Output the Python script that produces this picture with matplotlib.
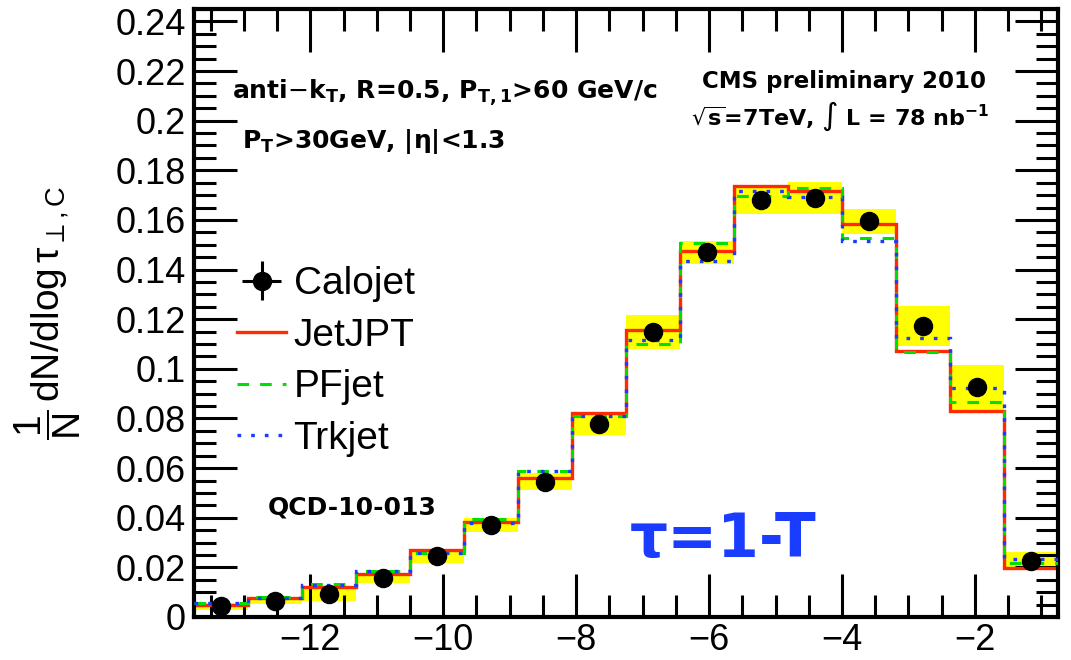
import matplotlib
matplotlib.use("Agg")
import matplotlib.pyplot as plt
from matplotlib.ticker import MultipleLocator, FuncFormatter
import numpy as np

# histogram binning in log(tau)
bin_edges = np.linspace(-13.75, -0.75, 17)

# normalised distributions per jet type
calojet = [0.0044, 0.0065, 0.0091, 0.0156, 0.0246, 0.0371, 0.0545, 0.0777,
           0.1148, 0.1470, 0.1681, 0.1688, 0.1594, 0.1173, 0.0926, 0.0226]
calojet_sys = [0.0014, 0.0012, 0.0028, 0.0018, 0.0028, 0.0029, 0.0035, 0.0045,
               0.0067, 0.0047, 0.0056, 0.0066, 0.0049, 0.0080, 0.0090, 0.0036]
jetjpt = [0.0048, 0.0078, 0.0120, 0.0172, 0.0269, 0.0384, 0.0559, 0.0821,
          0.1157, 0.1473, 0.1735, 0.1715, 0.1583, 0.1073, 0.0832, 0.0199]
pfjet = [0.0058, 0.0079, 0.0132, 0.0187, 0.0259, 0.0395, 0.0589, 0.0808,
         0.1101, 0.1509, 0.1698, 0.1728, 0.1527, 0.1067, 0.0866, 0.0219]
trkjet = [0.0055, 0.0078, 0.0129, 0.0187, 0.0257, 0.0378, 0.0589, 0.0808,
          0.1117, 0.1433, 0.1718, 0.1691, 0.1517, 0.1124, 0.0922, 0.0234]

plt.rcParams['font.family'] = ['Liberation Sans', 'DejaVu Sans']
plt.rcParams['mathtext.fontset'] = 'custom'
plt.rcParams['mathtext.rm'] = 'Liberation Sans'
plt.rcParams['mathtext.it'] = 'Liberation Sans:italic'
plt.rcParams['mathtext.bf'] = 'Liberation Sans:bold'

fig = plt.figure(figsize=(10.71, 6.6), dpi=100)
ax = fig.add_axes([194/1071, 43/660, 864/1071, 608/660])

centers = 0.5*(bin_edges[:-1] + bin_edges[1:])
widths = np.diff(bin_edges)
calo = np.array(calojet)
sys = np.array(calojet_sys)

# systematic uncertainty boxes
ax.bar(centers, 2*sys, bottom=calo-sys, width=widths, color='#ffff00',
       linewidth=0, zorder=1)

# other jet types as step histograms
ax.stairs(jetjpt, bin_edges, baseline=None, color='#ff2a00', linewidth=2.4,
          zorder=2, label='JetJPT')
ax.stairs(pfjet, bin_edges, baseline=None, color='#00e000', linewidth=2.2,
          linestyle=(0, (3.8, 3.6)), zorder=3, label='PFjet')
ax.stairs(trkjet, bin_edges, baseline=None, color='#1a3cff', linewidth=2.4,
          linestyle=(0, (1.1, 3.0)), zorder=4, label='Trkjet')

# calojet data points
ax.plot(centers, calo, 'o', color='k', markersize=13, zorder=5)
calo_handle = ax.errorbar([], [], xerr=[], yerr=[], fmt='o', color='k',
                          markersize=13, elinewidth=2.2, capsize=0)

ax.set_xlim(bin_edges[0], bin_edges[-1])
ax.set_ylim(0, 0.245)

ax.xaxis.set_major_locator(MultipleLocator(2))
ax.xaxis.set_minor_locator(MultipleLocator(0.5))
ax.yaxis.set_major_locator(MultipleLocator(0.02))
ax.yaxis.set_minor_locator(MultipleLocator(0.005))
ax.yaxis.set_major_formatter(FuncFormatter(lambda v, p: '%g' % round(v, 4)))

ax.tick_params(which='both', direction='in', top=True, right=True,
               width=2.2, labelsize=26)
ax.tick_params(which='major', length=31)
ax.tick_params(which='minor', length=16)
ax.tick_params(axis='x', pad=4)
ax.tick_params(axis='y', pad=6)
for sp in ax.spines.values():
    sp.set_linewidth(3)

ax.set_ylabel(r'$\dfrac{1}{\mathrm{N}}\,\mathrm{dN/dlog}\,\mathrm{\tau}_{\perp,\mathrm{C}}$',
              fontsize=28)
ax.yaxis.set_label_coords(-0.128, 0.5)

handles, labels = ax.get_legend_handles_labels()
ax.legend([calo_handle] + handles, ['Calojet'] + labels, loc='upper left',
          bbox_to_anchor=(0.05, 0.577), frameon=False, fontsize=28,
          handlelength=1.25, handletextpad=0.2, labelspacing=0.4,
          borderpad=0, borderaxespad=0)

# cut and luminosity labels
info = dict(transform=ax.transAxes, family='DejaVu Sans', fontweight='bold',
            math_fontfamily='dejavusans', va='baseline')
ax.text(0.044, 0.852, r'anti$-$k$_{\mathbf{T}}$, R=0.5, P$_{\mathbf{T,1}}$>60 GeV/c',
        ha='left', fontsize=18, **info)
ax.text(0.0556, 0.771, r'P$_{\mathbf{T}}$>30GeV, |$\mathbf{\eta}$|<1.3',
        ha='left', fontsize=18, **info)
ax.text(0.752, 0.870, 'CMS preliminary 2010', ha='center', fontsize=16.5, **info)
ax.text(0.748, 0.809, r'$\mathbf{\sqrt{s}}$=7TeV, $\int$ L = 78 nb$^{\mathbf{-1}}$',
        ha='center', fontsize=16, **info)

ax.text(0.0856, 0.169, 'QCD-10-013', transform=ax.transAxes,
        family='DejaVu Sans', fontweight='bold', fontsize=18,
        va='baseline', ha='left')
ax.text(0.612, 0.0987, 'τ=1-T', transform=ax.transAxes,
        family='DejaVu Sans', color='#1a3cff', fontsize=43, fontweight='bold',
        va='baseline', ha='center')

fig.savefig('out.png', dpi=100)
